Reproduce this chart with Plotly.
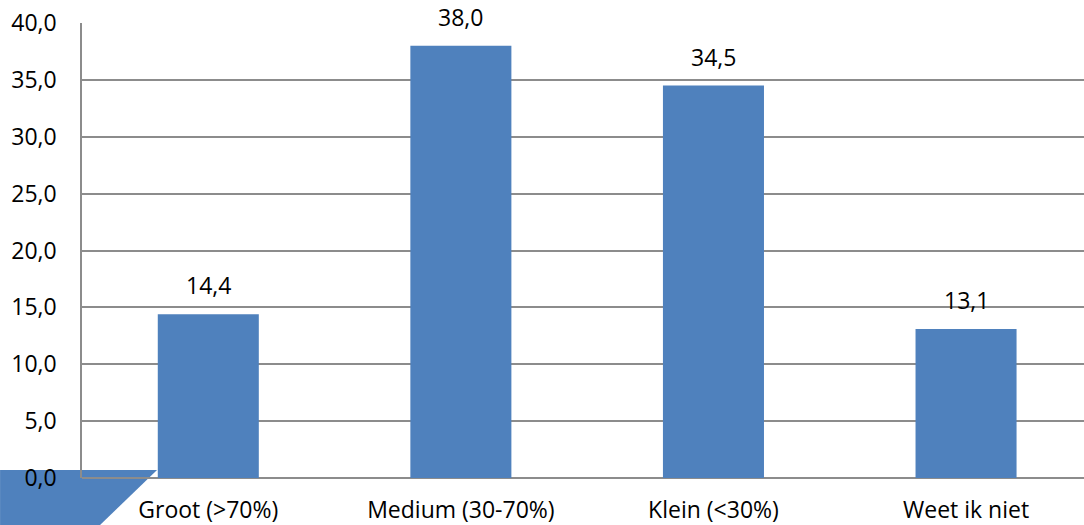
import plotly.graph_objects as go

categories = ["Groot (>70%)", "Medium (30-70%)", "Klein (<30%)", "Weet ik niet"]
values = [14.4, 38.0, 34.5, 13.1]
y_ticks = [0, 5, 10, 15, 20, 25, 30, 35, 40]

BLUE = "#4F81BD"
GRID = "#8C8C8C"
FONT = "Open Sans"
FS = 23

fig = go.Figure()
fig.add_trace(go.Bar(x=categories, y=values, marker=dict(color=BLUE, line=dict(width=0)),
                     width=0.4, hoverinfo="skip"))

for c, v in zip(categories, values):
    fig.add_annotation(x=c, y=v, text=f"{v:.1f}".replace(".", ","), showarrow=False,
                       yanchor="bottom", yshift=11, font=dict(family=FONT, size=FS, color="black"))

fig.add_shape(type="path", xref="paper", yref="paper", layer="below",
              path="M -0.0818,0.0176 L 0.0749,0.0176 L 0.018,-0.1033 L -0.0818,-0.1033 Z",
              fillcolor=BLUE, line=dict(width=0))

fig.update_layout(
    width=1084, height=525,
    margin=dict(l=82, r=0, t=23, b=47),
    paper_bgcolor="white", plot_bgcolor="white",
    separators=",.",
    showlegend=False,
    font=dict(family=FONT, size=FS, color="black"),
    xaxis=dict(type="category", range=[-0.5, 3.467], showgrid=False, showline=False,
               ticks="", tickfont=dict(family=FONT, size=FS, color="black"),
               ticklabelstandoff=16),
    yaxis=dict(range=[0, 40], tickvals=y_ticks, tickformat=".1f", showgrid=True,
               gridcolor=GRID, gridwidth=1.5, showline=True, linecolor=GRID, linewidth=1.5,
               zeroline=True, zerolinecolor=GRID, zerolinewidth=1.5, ticks="",
               tickfont=dict(family=FONT, size=FS, color="black"), ticklabelstandoff=19),
)
fig.write_html("out.html", config={"displayModeBar": False},
               post_script="document.body.style.margin='0';")
